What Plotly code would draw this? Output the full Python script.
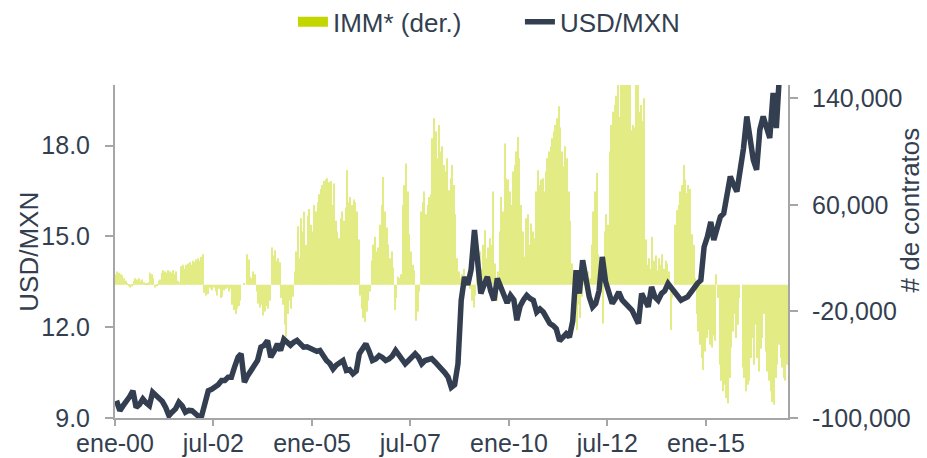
import pandas as pd
import plotly.graph_objects as go

# USD/MXN, monthly readings (Jan 2000 onward)
usdmxn = [
    9.57, 9.24, 9.40, 9.52, 9.70, 9.90, 9.35, 9.45, 9.63, 9.50, 9.41, 9.85,
    9.75, 9.68, 9.55, 9.35, 9.08, 9.20, 9.30, 9.52, 9.40, 9.19, 9.25, 9.24,
    9.15, 9.05, 9.08, 9.57, 9.90, 9.95, 10.01, 10.10, 10.24, 10.24, 10.35, 10.35,
    10.70, 11.01, 11.12, 10.18, 10.40, 10.57, 10.70, 10.90, 11.34, 11.40, 11.56, 11.01,
    11.20, 11.45, 11.23, 11.60, 11.50, 11.40, 11.50, 11.56, 11.45, 11.34, 11.35, 11.29,
    11.25, 11.20, 11.23, 11.05, 10.90, 10.80, 10.62, 10.75, 10.85, 10.90, 10.57, 10.60,
    10.46, 10.55, 11.12, 11.30, 11.45, 11.20, 10.90, 10.95, 11.06, 11.00, 10.90, 10.95,
    11.05, 11.23, 11.10, 10.95, 10.79, 10.90, 11.00, 11.12, 11.00, 10.79, 10.90, 10.95,
    10.96, 10.85, 10.75, 10.62, 10.50, 10.35, 10.01, 10.10, 10.79, 12.89, 13.66, 13.40,
    13.90, 15.21, 14.20, 13.11, 13.40, 13.66, 13.20, 12.89, 13.61, 13.30, 13.11, 12.80,
    13.05, 12.90, 12.23, 12.70, 12.90, 13.05, 12.95, 12.89, 12.50, 12.60, 12.50, 12.35,
    12.12, 12.05, 11.95, 11.55, 11.70, 11.78, 11.67, 12.20, 13.88, 13.11, 14.21, 13.55,
    13.00, 12.67, 12.78, 13.20, 14.32, 13.50, 13.10, 12.78, 12.95, 13.16, 12.90, 12.78,
    12.65, 12.56, 12.35, 12.12, 13.11, 12.90, 12.67, 13.33, 13.00, 12.89, 13.11, 13.20,
    13.44, 13.30, 13.16, 13.05, 12.89, 12.95, 13.00, 13.15, 13.33, 13.45, 13.55, 14.65,
    14.99, 15.48, 14.88, 15.30, 15.65, 15.76, 16.31, 16.98, 16.70, 16.48, 17.20, 17.90,
    18.96, 18.20, 17.53, 17.20, 18.52, 18.96, 18.60, 18.25, 19.74, 18.58, 20.50, 20.60,
    21.20,
]

# IMM net positions, thousands of contracts, two readings per month (Jan 2000 onward)
imm_k = [
    8, 10, 9, 8, 7, 5, 3, 1, -1, -2, -1, 3, 5, 4, 5, 3, 4, 2, 1, 1,
    2, 9, 8, 5, -2, -1, 3, 4, 9, 11, 10, 9, 11, 10, 9, 11, 8, 10, 3, 2,
    14, 15, 12, 15, 16, 17, 15, 18, 17, 19, 20, 18, 21, 23, -6, -8, -7, -2, -3, -4,
    -2, -5, -8, -3, -10, -9, -4, -3, -2, -5, -3, -15, -19, -22, -18, -16, -12, 0, 1, 0,
    23, 19, 6, 5, 10, 8, -5, -14, -17, -15, -23, -20, -16, -18, -12, 28, 22, 26, 18, 20,
    17, -10, -15, -30, -39, -22, -12, -18, -9, 10, 25, 44, 20, 50, 40, 55, 30, 52, 57, 45,
    40, 60, 55, 62, 68, 72, 75, 78, 79, 80, 77, 78, 60, 76, 48, 40, 35, 50, 55, 48,
    58, 86, 62, 66, 60, 64, 62, 55, 34, -8, -18, -25, -28, -20, -12, -5, 18, 30, 36, 25,
    28, 45, 60, 81, 55, 43, 30, 20, 25, 13, -19, -10, 6, 5, 8, 60, 75, 91, 70, 38,
    25, 15, 11, -27, -20, -5, 55, 62, 70, 53, 60, 66, 68, 110, 125, 115, 95, 120, 100, 104,
    90, 85, 95, 71, 80, 90, 75, 53, 20, 10, 5, 8, 12, 3, 6, 2, -3, -12, -17, -8,
    15, 20, 25, 12, 30, 41, 20, 28, 35, 30, 70, 16, -12, 10, 40, 66, 55, 106, 80, 79,
    70, 60, 85, 90, 100, 111, 95, 60, 40, 21, 50, 53, 30, 46, 40, 35, 70, 86, 75, 79,
    80, 70, 85, 95, 100, 104, 110, 115, 120, 125, 134, 118, 100, 89, 104, 95, 70, 48, 16, -9,
    -20, -34, -15, -25, -9, 5, 8, -5, 10, 5, 30, 55, 70, 84, 23, 10, 5, -29, 40, 53,
    45, 100, 120, 130, 135, 142, 150, 126, 155, 160, 160, 155, 158, 150, 116, 120, 118, 155, 160, 130,
    135, 123, 140, 34, 15, 20, 12, 36, 18, 22, 11, 20, 15, 23, 12, 18, 16, 10, -34, -10,
    0, 45, 56, 60, 70, 75, 90, 79, 69, 75, 72, 38, 30, 5, -22, -35, -45, -55, -64, -50,
    -40, -34, -45, -47, -38, -42, 8, -10, -60, -72, -80, -75, -85, -89, -70, -47, -35, -22, -40, -30,
    -10, 0, -62, -70, -80, -75, -72, -55, -40, -60, -30, -55, -65, -48, -40, -22, -50, -65, -72, -80,
    -88, -90, -70, -60, -45, -55, -62, -70, -72, -60,
]

tick_dates = ["2000-01-01", "2002-07-01", "2005-01-01", "2007-07-01",
              "2010-01-01", "2012-07-01", "2015-01-01"]
tick_labels = ["ene-00", "jul-02", "ene-05", "jul-07", "ene-10", "jul-12", "ene-15"]
left_ticks = [9, 12, 15, 18]
right_ticks = [-100000, -20000, 60000, 140000]
right_labels = ["-100,000", "-20,000", "60,000", "140,000"]

line_dates = pd.date_range("2000-01-01", periods=len(usdmxn), freq="MS") + pd.Timedelta(days=14)
bar_months = pd.date_range("2000-01-01", periods=len(imm_k) // 2, freq="MS")
bar_dates = []
for m in bar_months:
    bar_dates += [m + pd.Timedelta(days=7), m + pd.Timedelta(days=22)]
imm = [v * 1000 for v in imm_k]

TXT = "#333F50"
AX = "#a6a6a6"
LIME = "#c4d600"
FONT = "Liberation Sans, Arial, sans-serif"

fig = go.Figure()
fig.add_trace(go.Bar(x=bar_dates, y=imm, yaxis="y", marker=dict(color=LIME, line=dict(width=0)),
                     opacity=0.48, showlegend=False, name="IMM* (der.)"))
fig.add_trace(go.Scatter(x=[None], y=[None], mode="lines", line=dict(color=LIME, width=14),
                         name="IMM* (der.)"))
fig.add_trace(go.Scatter(x=line_dates, y=usdmxn, yaxis="y2", mode="lines",
                         line=dict(color="#333F50", width=5.5), name="USD/MXN"))

axis_common = dict(showline=True, linecolor=AX, linewidth=2, ticks="outside", tickwidth=2,
                   tickcolor=AX, showgrid=False, zeroline=False, automargin=False,
                   tickfont=dict(size=25, color=TXT))

fig.update_layout(
    width=927, height=458,
    margin=dict(l=115, r=139, t=85, b=40, autoexpand=False),
    paper_bgcolor="white", plot_bgcolor="white",
    font=dict(family=FONT, size=25, color=TXT),
    bargap=0.25,
    showlegend=True,
    legend=dict(orientation="h", xref="container", yref="paper", x=0.316, y=1.19,
                xanchor="left", yanchor="middle", font=dict(size=26, color=TXT),
                bgcolor="rgba(0,0,0,0)", itemwidth=30, entrywidth=182),
    xaxis=dict(type="date", range=["2000-01-01", "2017-01-31"], tickvals=tick_dates,
               ticktext=tick_labels, ticklen=6, ticklabelstandoff=-4, **axis_common),
    yaxis=dict(side="right", range=[-100000, 150000], tickvals=right_ticks,
               ticktext=right_labels, ticklen=8, ticklabelstandoff=9, **axis_common),
    yaxis2=dict(side="left", overlaying="y", range=[9, 20], tickvals=left_ticks,
                tickformat=".1f", ticklen=8, ticklabelstandoff=10, **axis_common),
    annotations=[
        dict(text="USD/MXN", xref="paper", yref="paper", x=-0.129, y=0.5,
             xanchor="center", yanchor="middle", textangle=-90, showarrow=False,
             font=dict(size=26, color=TXT)),
        dict(text="# de contratos", xref="paper", yref="paper", x=1.182, y=0.6246,
             xanchor="center", yanchor="middle", textangle=-90, showarrow=False,
             font=dict(size=26, color=TXT)),
    ],
)

fig.write_html("out.html", config={"displayModeBar": False},
               post_script="document.body.style.margin='0';")
